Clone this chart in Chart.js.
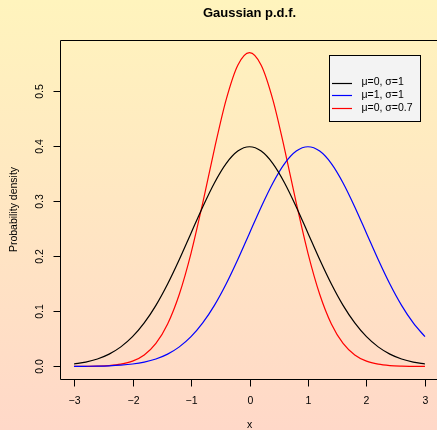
<!DOCTYPE html>
<html><head><meta charset="utf-8">
<script src="https://cdn.jsdelivr.net/npm/chart.js@4"></script>
<style>
html,body{margin:0;padding:0;overflow:hidden;width:437px;height:430px;}
body{background:linear-gradient(to bottom,#fff4bd 0%,#ffd8c8 100%);}
canvas{display:block;}
</style></head><body>
<canvas id="c" width="440" height="430"></canvas>
<script>
// x positions of the read values
const xs = [-3.0,-2.8,-2.6,-2.4,-2.2,-2.0,-1.8,-1.6,-1.4,-1.2,-1.0,-0.8,-0.6,-0.4,-0.2,0.0,
            0.2,0.4,0.6,0.8,1.0,1.2,1.4,1.6,1.8,2.0,2.2,2.4,2.6,2.8,3.0];
// mu=0, sigma=1
const seriesA = [0.0044,0.0079,0.0136,0.0224,0.0355,0.0540,0.0790,0.1109,0.1497,0.1942,0.2420,0.2897,0.3332,0.3683,0.3910,0.3989,
                 0.3910,0.3683,0.3332,0.2897,0.2420,0.1942,0.1497,0.1109,0.0790,0.0540,0.0355,0.0224,0.0136,0.0079,0.0044];
// mu=1, sigma=1
const seriesB = [0.0001,0.0003,0.0006,0.0012,0.0024,0.0044,0.0079,0.0136,0.0224,0.0355,0.0540,0.0790,0.1109,0.1497,0.1942,0.2420,
                 0.2897,0.3332,0.3683,0.3910,0.3989,0.3910,0.3683,0.3332,0.2897,0.2420,0.1942,0.1497,0.1109,0.0790,0.0540];
// mu=0, sigma=0.7
const seriesC = [0.0001,0.0002,0.0006,0.0016,0.0041,0.0096,0.0209,0.0418,0.0771,0.1311,0.2054,0.2966,0.3947,0.4841,0.5470,0.5699,
                 0.5470,0.4841,0.3947,0.2966,0.2054,0.1311,0.0771,0.0418,0.0209,0.0096,0.0041,0.0016,0.0006,0.0002,0.0001];
const seriesNames = ['\u03bc=0, \u03c3=1','\u03bc=1, \u03c3=1','\u03bc=0, \u03c3=0.7'];
const seriesColors = ['#000000','#0000ff','#ff0000'];
const xTicks = [-3,-2,-1,0,1,2,3];
const yTicks = [0.0,0.1,0.2,0.3,0.4,0.5];
const titleText = 'Gaussian p.d.f.';
const xTitle = 'x';
const yTitle = 'Probability density';

const FONT = '"Liberation Sans", Arial, Helvetica, sans-serif';

function pts(ys){ return xs.map((x,i)=>({x:x,y:ys[i]})); }

const decor = {
  id:'decor',
  afterDraw(chart){
    const ctx = chart.ctx, a = chart.chartArea;
    const sx = chart.scales.x, sy = chart.scales.y;
    ctx.save();
    ctx.strokeStyle = '#000'; ctx.lineWidth = 1;
    // box
    const L = Math.round(a.left)+0.5, T = Math.round(a.top)+0.5, B = Math.round(a.bottom)+0.5, R = Math.round(a.right)+0.5;
    ctx.beginPath();
    ctx.moveTo(R,T); ctx.lineTo(L,T); ctx.lineTo(L,B); ctx.lineTo(R,B); ctx.lineTo(R,T);
    ctx.stroke();
    // x ticks
    ctx.fillStyle = '#000';
    ctx.font = '10.5px ' + FONT;
    ctx.textAlign = 'center'; ctx.textBaseline = 'middle';
    xTicks.forEach(v=>{
      const px = Math.round(sx.getPixelForValue(v))+0.5;
      ctx.beginPath(); ctx.moveTo(px,B); ctx.lineTo(px,B+7); ctx.stroke();
      ctx.fillText((v<0?'\u2212':'')+Math.abs(v), px, 401);
    });
    // y ticks
    yTicks.forEach(v=>{
      const py = Math.round(sy.getPixelForValue(v))+0.5;
      ctx.beginPath(); ctx.moveTo(L,py); ctx.lineTo(L-7,py); ctx.stroke();
      ctx.save(); ctx.translate(40, py); ctx.rotate(-Math.PI/2);
      ctx.fillText(v.toFixed(1), 0, 0); ctx.restore();
    });
    // axis titles
    ctx.fillText(xTitle, sx.getPixelForValue(0), 425);
    ctx.save(); ctx.translate(14, (a.top+a.bottom)/2); ctx.rotate(-Math.PI/2);
    ctx.fillText(yTitle, 0, 0); ctx.restore();
    // title
    ctx.font = 'bold 13px ' + FONT;
    ctx.fillText(titleText, sx.getPixelForValue(0), 13);
    // legend
    const lx = 329.5, ly = 55.5, lw = 91, lh = 66;
    ctx.fillStyle = '#f3f3f3';
    ctx.fillRect(lx, ly, lw, lh);
    ctx.strokeStyle = '#000';
    ctx.strokeRect(lx, ly, lw, lh);
    ctx.font = '10.5px ' + FONT;
    ctx.textAlign = 'left';
    seriesNames.forEach((n,i)=>{
      const y = 82.5 + i*12.8;
      ctx.strokeStyle = seriesColors[i]; ctx.lineWidth = 1.2;
      ctx.beginPath(); ctx.moveTo(332, Math.round(y)+0.5); ctx.lineTo(352, Math.round(y)+0.5); ctx.stroke();
      ctx.fillStyle = '#000';
      ctx.fillText(n, 361.5, y);
    });
    ctx.restore();
  }
};

new Chart(document.getElementById('c'), {
  type:'line',
  data:{
    datasets:[seriesA,seriesB,seriesC].map((s,i)=>({
      label: seriesNames[i], data: pts(s), borderColor: seriesColors[i], borderWidth: 1.2,
      pointRadius: 0, fill:false, cubicInterpolationMode:'monotone'
    }))
  },
  options:{
    responsive:false, animation:false, devicePixelRatio:1,
    layout:{padding:{left:60,top:40,right:1,bottom:51}},
    plugins:{legend:{display:false}, title:{display:false}, tooltip:{enabled:false}},
    scales:{
      x:{type:'linear', min:-3.24, max:3.24, display:false},
      y:{type:'linear', min:-0.0228, max:0.5927, display:false}
    }
  },
  plugins:[decor]
});
</script>
</body></html>
